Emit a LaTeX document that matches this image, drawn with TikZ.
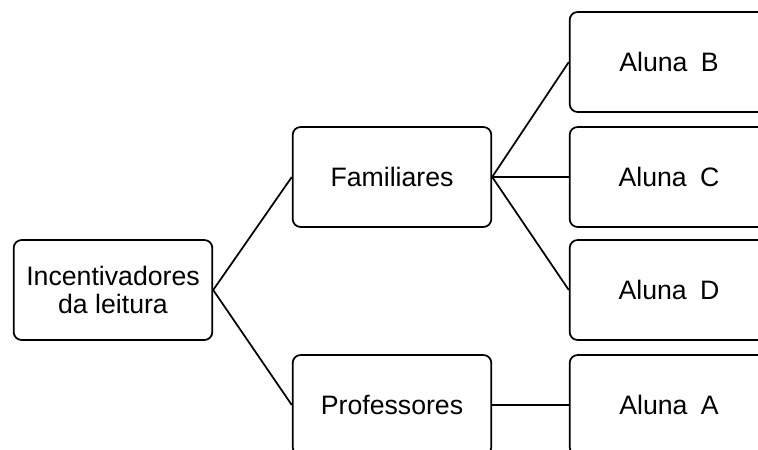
\documentclass[tikz,border=0pt]{standalone}
\usepackage{fontspec}
\setmainfont{Liberation Sans}
\usetikzlibrary{positioning}

\begin{document}
\begin{tikzpicture}[x=.75pt,y=-.75pt,
 box/.style={draw,line width=1.3pt,rounded corners=6pt,minimum width=149pt,minimum height=75pt,
  align=center,font=\fontsize{20}{21}\selectfont},
 link/.style={line width=1.3pt}]
 \useasboundingbox (0,0) rectangle (758,450);
 \clip (0,0) rectangle (758,450);
 \node[box] (inc) at (113,290) {Incentivadores\\da leitura};
 \node[box] (fam) at (392,177) {Familiares};
 \node[box] (prof) at (392,405) {Professores};
 \node[box] (alB) at (669,62) {Aluna\enspace B};
 \node[box] (alC) at (669,177) {Aluna\enspace C};
 \node[box] (alD) at (669,290) {Aluna\enspace D};
 \node[box] (alA) at (669,405) {Aluna\enspace A};
 \draw[link] (inc.east)--(fam.west);\draw[link] (inc.east)--(prof.west);
 \draw[link] (fam.east)--(alB.west);\draw[link] (fam.east)--(alC.west);
 \draw[link] (fam.east)--(alD.west);
 \draw[link] (prof.east)--(alA.west);
\end{tikzpicture}
\end{document}
